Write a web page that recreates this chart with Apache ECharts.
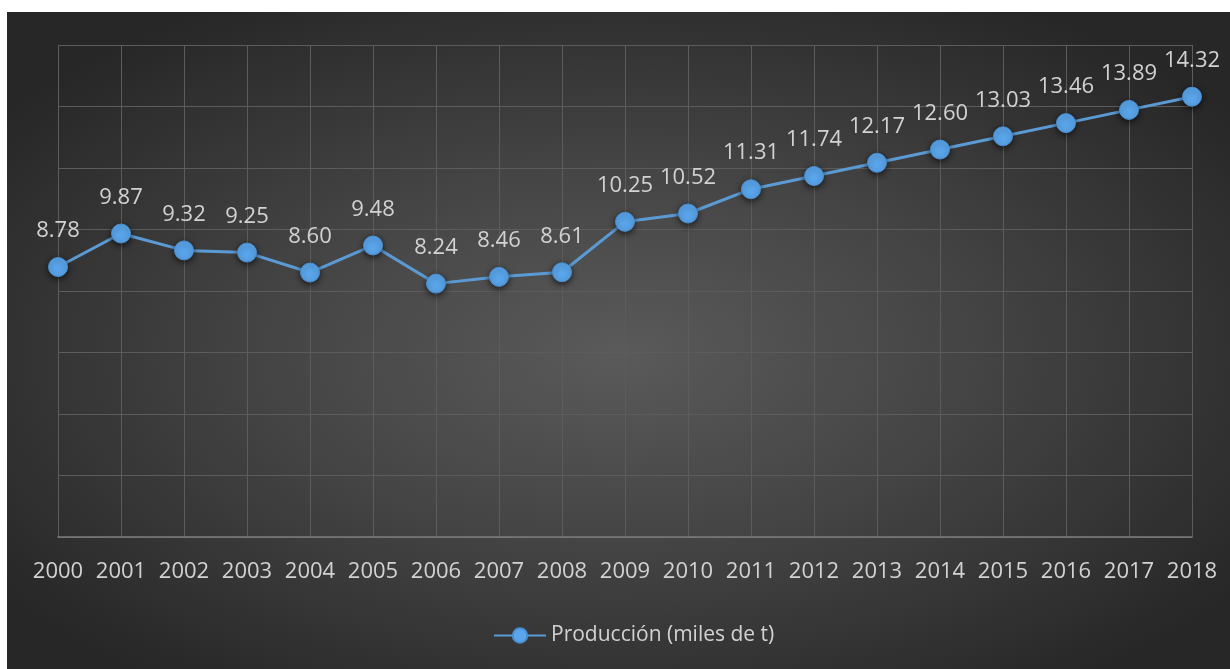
<!DOCTYPE html>
<html>
<head>
<meta charset="utf-8">
<script src="https://cdn.jsdelivr.net/npm/echarts@6/dist/echarts.min.js"></script>
<style>
  html, body { margin: 0; padding: 0; background: #ffffff; }
  #chart { width: 1230px; height: 669px; }
</style>
</head>
<body>
<div id="chart"></div>
<script>
// Producción anual (miles de toneladas), 2000–2018
const years = ['2000', '2001', '2002', '2003', '2004', '2005', '2006', '2007', '2008', '2009',
               '2010', '2011', '2012', '2013', '2014', '2015', '2016', '2017', '2018'];
const produccion = [8.78, 9.87, 9.32, 9.25, 8.60, 9.48, 8.24, 8.46, 8.61, 10.25,
                    10.52, 11.31, 11.74, 12.17, 12.60, 13.03, 13.46, 13.89, 14.32];
const seriesName = 'Producción (miles de t)';
const yMin = 0, yMax = 16, yStep = 2;

const textFont = "'Open Sans', 'Noto Sans', sans-serif";
const textColor = '#d2d2d2';

const chart = echarts.init(document.getElementById('chart'), null, { renderer: 'canvas' });

// dark panel with an elliptical radial glow, drawn as a scaled square
const panelW = 1223, panelH = 657;
chart.setOption({
  backgroundColor: '#ffffff',
  animation: false,
  graphic: [{
    type: 'rect',
    z: -10,
    silent: true,
    x: 7, y: 12,
    scaleY: panelH / panelW,
    shape: { x: 0, y: 0, width: panelW, height: panelW },
    style: {
      fill: {
        type: 'radial', x: 0.5, y: 0.52, r: 0.62,
        colorStops: [
          { offset: 0, color: '#5a5a5a' },
          { offset: 0.45, color: '#454545' },
          { offset: 1, color: '#272727' }
        ]
      }
    }
  }],
  grid: { left: 58, right: 38, top: 45, bottom: 132, containLabel: false },
  legend: {
    left: 488, top: 620,
    itemWidth: 52, itemHeight: 18, itemGap: 10,
    textStyle: { color: textColor, fontSize: 21, fontFamily: textFont },
    data: [seriesName]
  },
  xAxis: {
    type: 'category',
    data: years,
    boundaryGap: false,
    axisLine: { show: true, lineStyle: { color: '#7c7c7c', width: 1.5 } },
    axisTick: { show: false },
    axisLabel: { interval: 0, color: textColor, fontSize: 22, fontFamily: textFont, margin: 24 },
    splitLine: { show: true, interval: 0, lineStyle: { color: '#5c5c5c', width: 1 } }
  },
  yAxis: {
    type: 'value',
    min: yMin, max: yMax, interval: yStep,
    axisLine: { show: false },
    axisTick: { show: false },
    axisLabel: { show: false },
    splitLine: { show: true, lineStyle: { color: '#5c5c5c', width: 1 } }
  },
  series: [{
    name: seriesName,
    type: 'line',
    data: produccion,
    symbol: 'circle',
    symbolSize: 19,
    lineStyle: { color: '#5b9bd5', width: 3 },
    itemStyle: {
      color: '#5aa6ec',
      borderColor: '#4a8fd0',
      borderWidth: 1,
      shadowBlur: 6,
      shadowColor: 'rgba(0,0,0,0.65)',
      shadowOffsetY: 2
    },
    label: {
      show: true,
      position: 'top',
      distance: 15,
      color: textColor,
      fontSize: 22,
      fontFamily: textFont,
      formatter: p => p.value.toFixed(2)
    }
  }]
});
</script>
</body>
</html>
